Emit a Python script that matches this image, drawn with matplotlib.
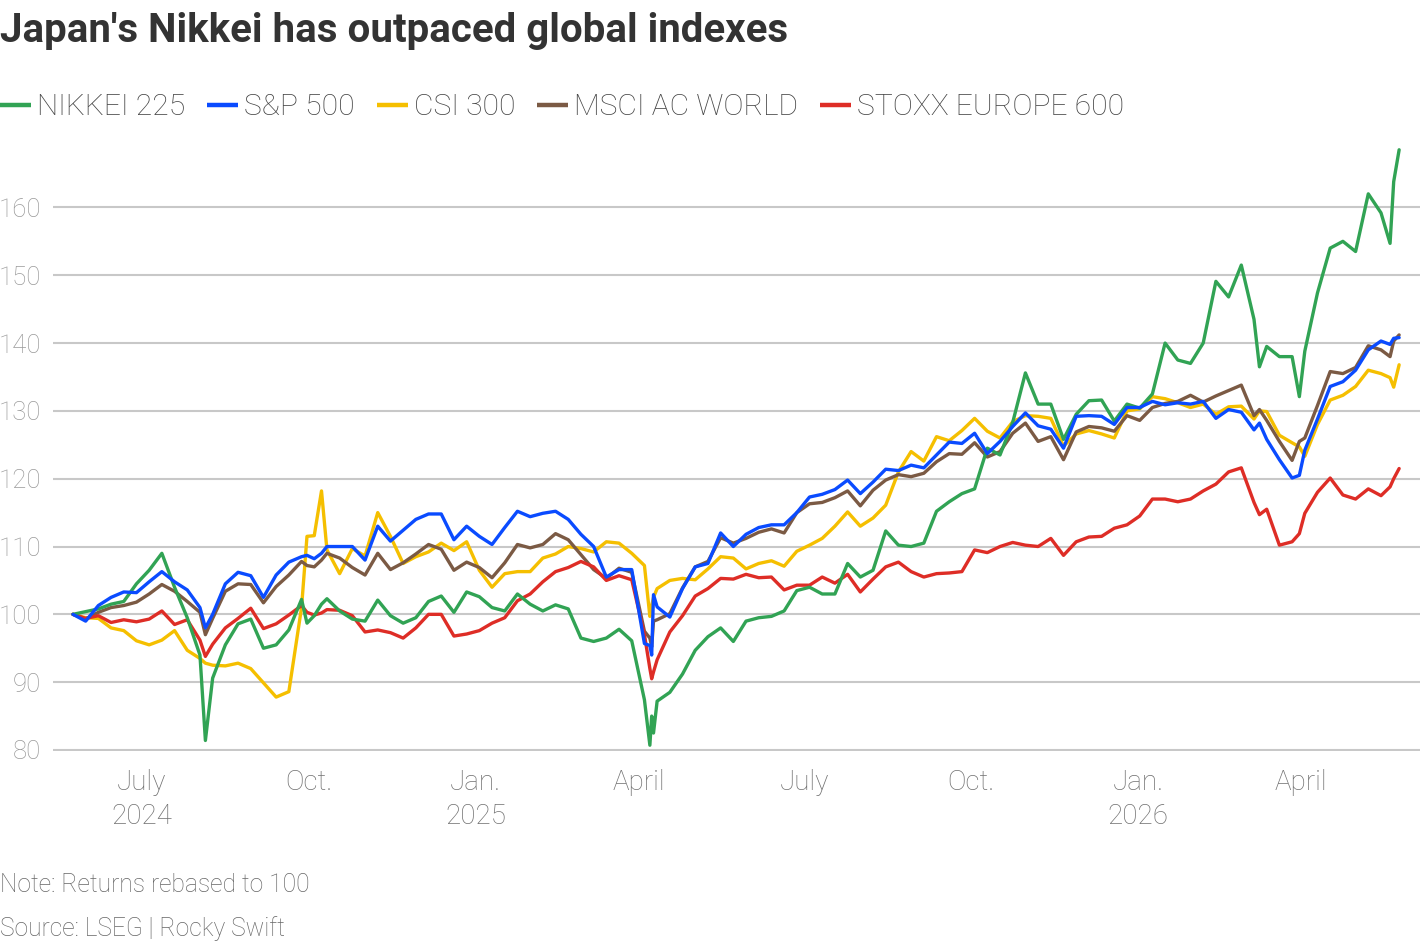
import matplotlib
matplotlib.use('Agg')
import matplotlib.pyplot as plt
from matplotlib.lines import Line2D
import pandas as pd

# ---------------- data ----------------
weekly_dates = pd.date_range('2024-05-24', periods=105, freq='7D')
extra_dates = pd.to_datetime(['2024-08-05', '2024-09-30', '2024-10-08',
                              '2025-04-07', '2025-04-08', '2025-04-09',
                              '2026-03-09', '2026-03-31', '2026-05-20',
                              '2026-05-25'])
dates = weekly_dates.union(extra_dates)

nikkei = [100.0, 100.4, 100.8, 101.5, 101.9, 104.5, 106.5, 109.0, 104.0, 99.5,
          94.0, 81.4, 90.6, 95.5, 98.6, 99.3, 95.0, 95.5, 97.7, 102.2,
          98.7, 99.8, 101.5, 102.3, 100.5, 99.3, 99.0, 102.1, 99.8, 98.7,
          99.5, 101.9, 102.7, 100.3, 103.3, 102.6, 101.0, 100.5, 103.0, 101.5,
          100.5, 101.4, 100.8, 96.5, 96.0, 96.5, 97.8, 96.1, 87.4,
          80.7, 85.0, 82.5, 87.2, 88.5, 91.2, 94.7, 96.7, 98.0, 96.0,
          99.0, 99.5, 99.7, 100.5, 103.5, 104.0, 103.0, 103.0, 107.5, 105.5,
          106.5, 112.3, 110.2, 110.0, 110.5, 115.2, 116.6, 117.8, 118.5, 124.5,
          123.5, 128.3, 135.6, 131.0, 131.0, 125.8, 129.5, 131.5, 131.6, 128.5,
          131.0, 130.4, 132.5, 140.0, 137.5, 137.0, 140.0, 149.1, 146.8, 151.5,
          143.5, 136.5, 139.5, 138.0, 138.0, 132.1, 138.8, 147.4, 154.0, 155.0,
          153.5, 162.0, 159.2, 154.7, 163.8, 168.5]

sp500 = [100.0, 99.0, 101.3, 102.5, 103.3, 103.2, 104.8, 106.3, 104.8, 103.6,
         101.0, 98.0, 100.0, 104.5, 106.2, 105.7, 102.5, 105.8, 107.7, 108.5,
         108.7, 108.2, 109.0, 110.0, 110.0, 110.0, 108.0, 113.0, 110.8, 112.4,
         114.0, 114.8, 114.8, 111.0, 113.0, 111.5, 110.3, 112.8, 115.2, 114.4,
         114.9, 115.2, 114.0, 111.8, 110.0, 105.5, 106.6, 106.6, 95.7,
         95.4, 94.0, 102.9, 101.1, 99.6, 103.8, 107.0, 107.5, 112.0, 110.0,
         111.8, 112.8, 113.2, 113.2, 115.0, 117.3, 117.7, 118.4, 119.8, 117.8,
         119.5, 121.4, 121.2, 122.0, 121.6, 123.5, 125.4, 125.2, 126.7, 123.7,
         125.5, 127.7, 129.7, 127.8, 127.3, 124.5, 129.2, 129.3, 129.2, 128.0,
         130.5, 130.5, 131.4, 130.9, 131.2, 131.0, 131.4, 128.9, 130.2, 129.8,
         127.2, 128.2, 125.8, 122.8, 120.1, 120.5, 124.2, 128.8, 133.6, 134.3,
         136.0, 139.0, 140.3, 139.8, 140.7, 140.8]

csi300 = [100.0, 99.5, 99.4, 98.0, 97.6, 96.1, 95.5, 96.2, 97.6, 94.7,
          93.5, 92.8, 92.5, 92.4, 92.8, 92.0, 89.9, 87.8, 88.6, 101.0,
          111.5, 111.6, 118.2, 109.5, 106.0, 109.7, 108.6, 115.0, 111.5, 107.5,
          108.5, 109.2, 110.5, 109.4, 110.7, 106.5, 104.0, 106.0, 106.3, 106.3,
          108.3, 108.9, 110.0, 109.7, 109.2, 110.7, 110.5, 109.0, 107.2,
          99.7, 101.3, 102.5, 103.8, 105.0, 105.3, 105.1, 106.7, 108.5, 108.3,
          106.7, 107.5, 107.9, 107.1, 109.3, 110.2, 111.2, 113.0, 115.1, 113.0,
          114.2, 116.1, 121.0, 124.0, 122.6, 126.2, 125.6, 127.1, 128.9, 127.0,
          126.0, 128.4, 129.3, 129.2, 128.9, 124.8, 126.6, 127.1, 126.6, 126.0,
          130.0, 130.3, 132.1, 131.8, 131.2, 130.5, 131.0, 129.5, 130.6, 130.7,
          128.8, 130.0, 129.9, 126.4, 125.3, 124.7, 123.3, 128.0, 131.6, 132.3,
          133.6, 136.0, 135.5, 134.9, 133.5, 136.8]

msci_acwi = [100.0, 99.3, 100.3, 101.0, 101.3, 101.8, 103.0, 104.4, 103.4, 101.9,
             100.3, 97.0, 99.4, 103.4, 104.5, 104.4, 101.7, 104.1, 105.8, 107.8,
             107.2, 107.0, 108.0, 109.0, 108.3, 106.9, 105.8, 109.0, 106.6, 107.6,
             108.9, 110.3, 109.6, 106.5, 107.7, 106.9, 105.4, 107.6, 110.3, 109.8,
             110.3, 111.9, 111.0, 108.8, 106.6, 105.3, 106.8, 106.2, 97.5,
             96.5, 95.2, 99.0, 99.2, 100.1, 103.9, 107.0, 107.8, 111.3, 110.5,
             111.2, 112.1, 112.6, 112.0, 115.0, 116.3, 116.5, 117.2, 118.2, 116.0,
             118.3, 119.8, 120.6, 120.3, 120.8, 122.5, 123.7, 123.6, 125.3, 123.2,
             124.0, 126.7, 128.2, 125.5, 126.2, 122.8, 126.9, 127.7, 127.5, 127.0,
             129.3, 128.6, 130.5, 131.1, 131.4, 132.3, 131.3, 132.2, 133.0, 133.8,
             129.3, 130.2, 128.6, 125.5, 122.7, 125.5, 126.0, 130.8, 135.8, 135.5,
             136.4, 139.6, 139.0, 138.0, 140.3, 141.2]

stoxx600 = [100.0, 99.4, 99.8, 98.8, 99.2, 98.9, 99.3, 100.5, 98.5, 99.2,
            96.2, 93.8, 95.6, 98.0, 99.4, 100.9, 97.9, 98.6, 99.9, 101.3,
            100.3, 99.9, 100.2, 100.7, 100.6, 99.8, 97.4, 97.7, 97.3, 96.5,
            98.0, 100.0, 100.0, 96.8, 97.1, 97.6, 98.7, 99.5, 102.0, 103.0,
            104.8, 106.3, 106.9, 107.8, 107.0, 105.0, 105.7, 105.1, 97.0,
            92.0, 90.5, 91.5, 93.3, 97.4, 99.8, 102.7, 103.8, 105.3, 105.2,
            105.9, 105.4, 105.5, 103.6, 104.3, 104.3, 105.5, 104.6, 105.9, 103.3,
            105.2, 107.0, 107.7, 106.3, 105.5, 106.0, 106.1, 106.3, 109.5, 109.1,
            110.0, 110.6, 110.2, 110.0, 111.2, 108.7, 110.7, 111.4, 111.5, 112.7,
            113.2, 114.5, 117.0, 117.0, 116.6, 117.0, 118.2, 119.2, 121.0, 121.6,
            116.5, 114.7, 115.5, 110.2, 110.7, 111.9, 114.9, 118.0, 120.1, 117.6,
            117.0, 118.5, 117.5, 118.8, 120.0, 121.5]

series_names = ['NIKKEI 225', 'S&P 500', 'CSI 300', 'MSCI AC WORLD', 'STOXX EUROPE 600']
series_values = [nikkei, sp500, csi300, msci_acwi, stoxx600]
series_colors = ['#31a354', '#0a4bff', '#f5bf00', '#7b5a44', '#de2d26']
series_z = [5, 6, 2, 3, 4]

y_ticks = [80, 90, 100, 110, 120, 130, 140, 150, 160]
x_tick_dates = pd.to_datetime(['2024-07-01', '2024-10-01', '2025-01-01', '2025-04-01',
                               '2025-07-01', '2025-10-01', '2026-01-01', '2026-04-01'])
x_tick_labels = ['July\n2024', 'Oct.', 'Jan.\n2025', 'April', 'July', 'Oct.',
                 'Jan.\n2026', 'April']

title = "Japan's Nikkei has outpaced global indexes"
note = 'Note: Returns rebased to 100'
source = 'Source: LSEG | Rocky Swift'

# ---------------- figure ----------------
W, H = 1420, 942
fig = plt.figure(figsize=(W / 100, H / 100), dpi=100)
fig.patch.set_facecolor('white')

ax_left, ax_right, ax_top, ax_bottom = 53, 1420, 143, 751
ax = fig.add_axes([ax_left / W, 1 - ax_bottom / H,
                   (ax_right - ax_left) / W, (ax_bottom - ax_top) / H])

for name, vals, col, z in zip(series_names, series_values, series_colors, series_z):
    ax.plot(dates, vals, color=col, lw=2.4, zorder=z, solid_joinstyle='round',
            solid_capstyle='round', label=name)

start = dates[0]
ax.set_xlim(start - pd.Timedelta(days=11.0), start + pd.Timedelta(days=742.5))
ax.set_ylim(79.85, 169.5)
ax.set_yticks(y_ticks)
ax.set_yticklabels([str(v) for v in y_ticks])
ax.set_xticks(x_tick_dates)
ax.set_xticklabels(x_tick_labels)

for s in ax.spines.values():
    s.set_visible(False)
ax.grid(axis='y', color='#c8c8c8', lw=1.5, zorder=0)
ax.set_axisbelow(True)

font = 'Roboto'
ax.tick_params(axis='y', length=0, pad=8.5, labelsize=18.5, labelcolor='#9a9a9a')
ax.tick_params(axis='x', length=0, pad=13, labelsize=20, labelcolor='#707070')
for lab in ax.get_yticklabels() + ax.get_xticklabels():
    lab.set_fontfamily(font)
    lab.set_fontweight('light')
for lab in ax.get_xticklabels():
    lab.set_linespacing(1.32)

# title
fig.text(0.0, 1 - 42 / H, title, fontsize=29, fontweight='bold', family=font,
         color='#333333', ha='left', va='baseline')

# legend (manual, in pixel coordinates)
renderer = fig.canvas.get_renderer()
x = 0.0
y_line = 105
y_base = 115
for name, col in zip(series_names, series_colors):
    fig.add_artist(Line2D([x / W, (x + 31) / W], [1 - y_line / H, 1 - y_line / H],
                          color=col, lw=3.2, solid_capstyle='butt',
                          transform=fig.transFigure))
    t = fig.text((x + 37) / W, 1 - y_base / H, name, fontsize=21.6, family=font,
                 fontweight='light', color='#444444', ha='left', va='baseline')
    bb = t.get_window_extent(renderer)
    x = bb.x1 + 22

# notes
fig.text(0.0, 1 - 892 / H, note, fontsize=17.7, family=font, fontweight='light',
         color='#666666', ha='left', va='baseline')
fig.text(0.0, 1 - 936 / H, source, fontsize=17.7, family=font, fontweight='light',
         color='#666666', ha='left', va='baseline')

fig.savefig('out.png', dpi=100, facecolor='white')
